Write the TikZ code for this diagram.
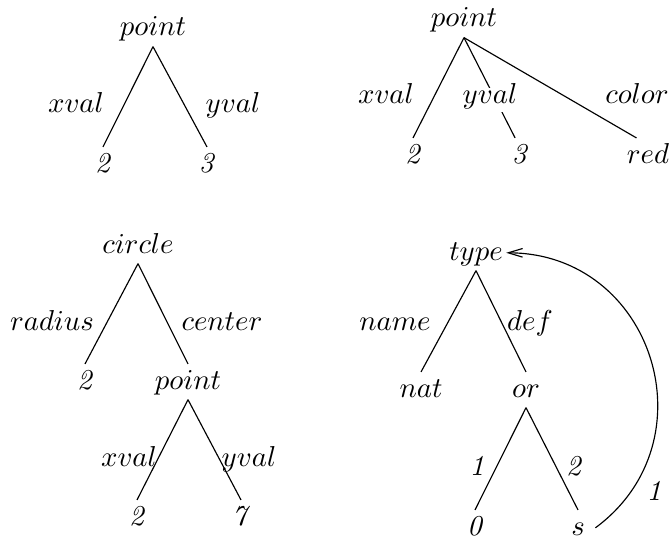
\documentclass[tikz,border=0pt]{standalone}
\usepackage{tikz}
\usetikzlibrary{arrows.meta}

\begin{document}
\begin{tikzpicture}[
        x=0.3472pt, y=-0.3472pt,
        tnode/.style={inner sep=1pt, text height=7.5pt, text depth=2.5pt, anchor=base},
        lbl/.style={inner sep=1pt, anchor=base},
        edge/.style={line width=0.4pt},
        back/.style={-{Straight Barb[length=5pt, width=3pt]}, line width=0.4pt}
    ]
        \useasboundingbox (0,0) rectangle (670,539);

        % Point with two features
        \node[tnode] (pa) at (153,36) {$point$};
        \node[tnode] (pax) at (103,172) {\textit{2}};
        \node[tnode] (pay) at (207,172) {\textit{3}};
        \draw[edge] (pa.south) -- (pax.north);
        \draw[edge] (pa.south) -- (pay.north);
        \node[lbl] (paxl) at (76,113) {$xval$};
        \node[lbl] (payl) at (233,113) {$yval$};

        % Point with three features
        \node[tnode] (pb) at (464,27) {$point$};
        \node[tnode] (pbx) at (413,163) {\textit{2}};
        \node[tnode] (pby) at (520,163) {\textit{3}};
        \node[tnode] (pbc) at (648,163) {$red$};
        \draw[edge] (pb.south) -- (pbx.north);
        \draw[edge] (pb.south) -- ([xshift=-1.7pt]pby.north);
        \draw[edge] (pb.south) -- ([xshift=-4pt]pbc.north);
        \node[lbl] (pbxl) at (386,104) {$xval$};
        \node[lbl, fill=white, text height=4.5pt] (pbyl) at (490,104) {$yval$};
        \node[lbl] (pbcl) at (637,104) {$color$};

        % Circle
        \node[tnode] (cc) at (138,253) {$circle$};
        \node[tnode] (ccr) at (85,389) {\textit{2}};
        \node[tnode] (ccp) at (188,389) {$point$};
        \node[tnode] (ccx) at (137,525) {\textit{2}};
        \node[tnode] (ccy) at (241,525) {\textit{7}};
        \draw[edge] (cc.south) -- (ccr.north);
        \draw[edge] (cc.south) -- (ccp.north);
        \draw[edge] (ccp.south) -- (ccx.north);
        \draw[edge] (ccp.south) -- (ccy.north);
        \node[lbl] (ccrl) at (52,330) {$radius$};
        \node[lbl] (ccpl) at (222,330) {$center$};
        \node[lbl] (ccxl) at (129,466) {$xval$};
        \node[lbl] (ccyl) at (249,466) {$yval$};

        % Recursive type
        \node[tnode] (ty) at (476,260) {$type$};
        \node[tnode] (tyn) at (421,397) {$nat$};
        \node[tnode] (tyo) at (526,397) {$or$};
        \node[tnode] (tyz) at (475,535) {\textit{0}};
        \node[tnode] (tys) at (578,535) {$s$};
        \draw[edge] (ty.south) -- (tyn.north);
        \draw[edge] (ty.south) -- (tyo.north);
        \draw[edge] (tyo.south) -- (tyz.north);
        \draw[edge] (tyo.south) -- (tys.north);
        \draw[back] ([xshift=2.5pt]tys.east) .. controls (713,441) and (653,253) .. (ty.east);
        \node[lbl] (tynl) at (395,330) {$name$};
        \node[lbl] (tyol) at (530,330) {$def$};
        \node[lbl] (tyzl) at (477,475) {\textit{1}};
        \node[lbl] (tysl) at (574,475) {\textit{2}};
        \node[lbl] (tybl) at (654,500) {\textit{1}};
    \end{tikzpicture}
\end{document}
